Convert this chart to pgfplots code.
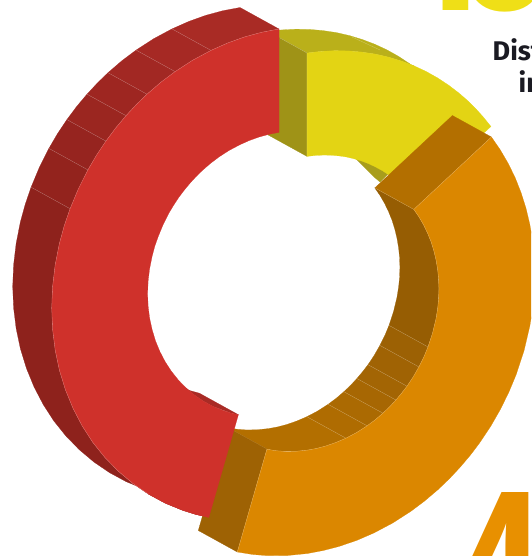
\documentclass[border=0pt]{standalone}
\usepackage{fontspec}
\usepackage{pgfplots}
\pgfplotsset{compat=1.18}
\newfontfamily\fira{Fira Sans}
\newfontfamily\libsans{Liberation Sans}
\newfontfamily\opensans{Open Sans}
\definecolor{redfront}{HTML}{CF312B}
\definecolor{redA}{HTML}{A92B25}
\definecolor{redB}{HTML}{A62924}
\definecolor{redC}{HTML}{A22823}
\definecolor{redD}{HTML}{9E2621}
\definecolor{redE}{HTML}{9B2620}
\definecolor{redF}{HTML}{96241F}
\definecolor{redG}{HTML}{93231D}
\definecolor{redH}{HTML}{8E221C}
\definecolor{yellowfront}{HTML}{E3D414}
\definecolor{olivetop}{HTML}{BAB01A}
\definecolor{olivewall}{HTML}{9F9317}
\definecolor{olivelow}{HTML}{A89D1C}
\definecolor{orangefront}{HTML}{DB8700}
\definecolor{browntop}{HTML}{B36F00}
\definecolor{browncut}{HTML}{9E6204}
\definecolor{wallA}{HTML}{965D03}
\definecolor{wallB}{HTML}{9C6104}
\definecolor{wallC}{HTML}{A06304}
\definecolor{wallD}{HTML}{A36504}
\definecolor{wallE}{HTML}{A76703}
\definecolor{wallF}{HTML}{AB6A02}
\definecolor{wallG}{HTML}{AF6C01}
\definecolor{wallH}{HTML}{B36F00}
\definecolor{bigyellow}{HTML}{EFDF17}
\definecolor{bigorange}{HTML}{E89000}
\definecolor{inkdark}{HTML}{1A1A22}
% one flat face of the extruded ring
\newcommand\face[2]{\addplot[fill=#1,draw=#1,line width=.2pt,forget plot] coordinates {#2} --cycle;}
% pale hairline along a facet boundary
\newcommand\seam[1]{\addplot[draw=white,opacity=.35,line width=.3pt,forget plot] coordinates {#1};}
\begin{document}
\begin{tikzpicture}
\path[use as bounding box,clip] (0,0) rectangle (531pt,556pt);
\begin{axis}[
  at={(0,0)},anchor=south west,
  width=531pt,height=556pt,scale only axis,
  xmin=0,xmax=531,ymin=0,ymax=556,y dir=reverse,
  axis lines=none,clip=true]
% yellow slice (15%): outer wall, inner sliver, cut face and front
\face{olivetop}{(268,31.5)(281.9,29.9)(295.7,29.2)(309.4,29.4)(323,30.6)(336.4,32.6)(349.5,35.6)(362.3,39.5)(374.7,44.2)(386.8,49.8)(398.4,56.3)(409.5,63.6)(420.1,71.7)(413.7,65.7)(401.3,61)(388.5,57.1)(375.4,54.1)(362,52.1)(348.4,50.9)(334.7,50.7)(320.9,51.4)(307,53)}
\face{olivelow}{(352,155)(360,163)(367,170)(374,177)(380,182)(390,172)(360,155)}
\face{olivewall}{(268,31.5)(307,53)(307,156.4)(268,134.9)}
\face{yellowfront}{(307,53)(320.9,51.4)(334.7,50.7)(348.4,50.9)(362,52.1)(375.4,54.1)(388.5,57.1)(401.3,61)(413.7,65.7)(425.8,71.3)(437.4,77.8)(448.5,85.1)(459.1,93.2)(467.7,100.7)(475.9,108.8)(483.6,117.4)(490.9,126.5)(413.3,198.9)(394.9,179.6)(388.8,174.9)(382.4,170.7)(375.6,167)(368.7,163.7)(361.5,161)(354.1,158.8)(346.5,157)(338.8,155.9)(330.9,155.2)(323,155.1)(315,155.5)(307,156.4)}
\seam{(280,38)(307,53)(307,156.4)}
\seam{(352,37)(380,50)}
% red slice (45%): outer wall facets
\face{redA}{(240,7.5)(222.75,10.75)(205.6,15.4)(188.65,21.5)(172,28.9)(211,50.4)(227.65,43)(244.6,36.9)(261.75,32.25)(279,29)}
\face{redB}{(172,28.9)(153.7,38.7)(136.1,50.1)(175.1,71.6)(192.7,60.2)(211,50.4)}
\face{redC}{(136.1,50.1)(121.7,60.9)(108,72.7)(147,94.2)(160.7,82.4)(175.1,71.6)}
\face{redD}{(108,72.7)(97.25,83.15)(87,94.2)(126,115.7)(136.25,104.65)(147,94.2)}
\face{redE}{(87,94.2)(76.6,106.6)(66.9,119.6)(105.9,141.1)(115.6,128.1)(126,115.7)}
\face{redF}{(66.9,119.6)(57.5,133.7)(48.9,148.4)(87.9,169.9)(96.5,155.2)(105.9,141.1)}
\face{redG}{(48.9,148.4)(39.3,167.5)(31.1,187.2)(70.1,208.7)(78.3,189)(87.9,169.9)}
\face{redH}{(31.1,187.2)(25.2,204.4)(20.4,221.9)(16.15,243.4)(13.6,265)(12.7,286.5)(13.6,307.8)(16.15,328.5)(20.4,348.7)(26.4,368.2)(34,386.8)(43.15,404.4)(53.8,420.9)(65.9,436)(79.3,449.7)(93.9,462)(109.6,472.7)(126.3,481.7)(143.9,488.9)(156.7,492.9)(169.8,496)(208.8,517.5)(195.7,514.4)(182.9,510.4)(165.3,503.2)(148.6,494.2)(132.9,483.5)(118.3,471.2)(104.9,457.5)(92.8,442.4)(82.15,425.9)(73,408.3)(65.4,389.7)(59.4,370.2)(55.15,350)(52.6,329.3)(51.7,308)(52.6,286.5)(55.15,264.9)(59.4,243.4)(64.2,225.9)(70.1,208.7)}
\seam{(172,28.9)(211,50.4)}
\seam{(136.1,50.1)(175.1,71.6)}
\seam{(108,72.7)(147,94.2)}
\seam{(87,94.2)(126,115.7)}
\seam{(66.9,119.6)(105.9,141.1)}
\seam{(48.9,148.4)(87.9,169.9)}
\seam{(31.1,187.2)(70.1,208.7)}
\face{redA}{(184.5,389.1)(199.4,393.2)(238.4,414.7)(230.9,413)(213.3,406.5)(203.6,401.3)(194.6,395.1)(186.1,388)}
% orange slice (40%): inner wall facets
\face{wallA}{(374.8,187.9)(379.9,195.3)(384.5,203.2)(388.5,211.5)(392,220.1)(394.8,229.1)(397,238.3)(398.6,247.8)(399.6,257.5)(399.9,267.3)(399.6,277.3)(398.6,287.2)(397,297.2)(393.6,311.4)(389,325.4)(428,346.9)(432.6,332.9)(436,318.7)(437.6,308.7)(438.6,298.8)(438.9,288.8)(438.6,279)(437.6,269.3)(436,259.8)(433.8,250.6)(431,241.6)(427.5,233)(423.5,224.7)(418.9,216.8)(413.8,209.4)}
\face{wallB}{(389,325.4)(384.8,335.6)(379.9,345.4)(418.9,366.9)(423.8,357.1)(428,346.9)}
\face{wallC}{(379.9,345.4)(374.3,355.2)(368,364.7)(407,386.2)(413.3,376.7)(418.9,366.9)}
\face{wallD}{(368,364.7)(362.6,371.7)(356.9,378.5)(395.9,400)(401.6,393.2)(407,386.2)}
\face{wallE}{(356.9,378.5)(350.6,385.3)(343.9,391.7)(382.9,413.2)(389.6,406.8)(395.9,400)}
\face{wallF}{(343.9,391.7)(336.2,398.3)(328.1,404.3)(367.1,425.8)(375.2,419.8)(382.9,413.2)}
\face{wallG}{(328.1,404.3)(317.7,411)(306.9,416.7)(345.9,438.2)(356.7,432.5)(367.1,425.8)}
\face{wallH}{(306.9,416.7)(296.9,421)(286.8,424.5)(277.7,426.9)(268.5,428.6)(257.1,429.8)(245.7,429.9)(236.7,429.2)(227.9,427.7)(266.9,449.2)(275.7,450.7)(284.7,451.4)(296.1,451.3)(307.5,450.1)(316.7,448.4)(325.8,446)(335.9,442.5)(345.9,438.2)}
\seam{(389,325.4)(428,346.9)}
\seam{(379.9,345.4)(418.9,366.9)}
\seam{(368,364.7)(407,386.2)}
\seam{(356.9,378.5)(395.9,400)}
\seam{(343.9,391.7)(382.9,413.2)}
\seam{(328.1,404.3)(367.1,425.8)}
\seam{(306.9,416.7)(345.9,438.2)}
\seam{(227.9,427.7)(266.9,449.2)}
% orange slice: the two cut faces and the front
\face{browntop}{(452.4,115.5)(491.4,137)(413.8,209.4)(374.8,187.9)}
\face{browncut}{(266.9,449.2)(237.3,552)(198.3,530.5)(227.9,427.7)}
\face{orangefront}{(491.4,137)(500.3,149.9)(508.2,163.5)(515.2,177.8)(521.1,192.8)(526,208.3)(529.8,224.3)(532.6,240.7)(534.3,257.5)(534.9,274.5)(534.3,291.7)(532.6,308.9)(529.8,326.1)(524,350.8)(516,375)(508.7,392.5)(500.3,409.5)(490.5,426.6)(479.6,442.9)(470.4,455.1)(460.5,466.8)(449.5,478.6)(437.9,489.7)(424.6,501)(410.7,511.4)(392.7,523)(374,532.9)(356.7,540.4)(339.1,546.4)(323.3,550.5)(307.5,553.5)(287.7,555.5)(268,555.7)(252.5,554.45)(237.3,552)(266.9,449.2)(275.7,450.7)(284.7,451.4)(296.1,451.3)(307.5,450.1)(316.7,448.4)(325.8,446)(335.9,442.5)(345.9,438.2)(356.7,432.5)(367.1,425.8)(375.2,419.8)(382.9,413.2)(389.6,406.8)(395.9,400)(401.6,393.2)(407,386.2)(413.3,376.7)(418.9,366.9)(423.8,357.1)(428,346.9)(432.6,332.9)(436,318.7)(437.6,308.7)(438.6,298.8)(438.9,288.8)(438.6,279)(437.6,269.3)(436,259.8)(433.8,250.6)(431,241.6)(427.5,233)(423.5,224.7)(418.9,216.8)(413.8,209.4)}
\seam{(374.8,187.9)(413.8,209.4)(491.4,137)}
\seam{(266.9,449.2)(237.3,552)}
\seam{(266.9,449.2)(275.7,450.7)(284.7,451.4)(296.1,451.3)(307.5,450.1)(316.7,448.4)(325.8,446)(335.9,442.5)(345.9,438.2)(356.7,432.5)(367.1,425.8)(375.2,419.8)(382.9,413.2)(389.6,406.8)(395.9,400)(401.6,393.2)(407,386.2)(413.3,376.7)(418.9,366.9)(423.8,357.1)(428,346.9)(432.6,332.9)(436,318.7)(437.6,308.7)(438.6,298.8)(438.9,288.8)(438.6,279)(437.6,269.3)(436,259.8)(433.8,250.6)(431,241.6)(427.5,233)(423.5,224.7)(418.9,216.8)(413.8,209.4)}
% red slice: front face
\face{redfront}{(279,29)(261.75,32.25)(244.6,36.9)(227.65,43)(211,50.4)(192.7,60.2)(175.1,71.6)(160.7,82.4)(147,94.2)(136.25,104.65)(126,115.7)(115.6,128.1)(105.9,141.1)(96.5,155.2)(87.9,169.9)(78.3,189)(70.1,208.7)(64.2,225.9)(59.4,243.4)(55.15,264.9)(52.6,286.5)(51.7,308)(52.6,329.3)(55.15,350)(59.4,370.2)(65.4,389.7)(73,408.3)(82.15,425.9)(92.8,442.4)(104.9,457.5)(118.3,471.2)(132.9,483.5)(148.6,494.2)(165.3,503.2)(182.9,510.4)(195.7,514.4)(208.8,517.5)(238.4,414.7)(230.9,413)(223.5,410.6)(213.3,406.5)(203.6,401.3)(194.6,395.1)(186.1,388)(178.4,380.1)(171.4,371.3)(165.2,361.8)(159.9,351.6)(155.5,340.9)(152.1,329.6)(149.6,318)(148.1,306)(147.6,293.7)(148.1,281.2)(149.6,268.8)(152.1,256.3)(154.8,246.2)(158.3,236.3)(163,224.9)(168.5,213.8)(173.5,205.4)(178.9,197.2)(184.6,189.7)(190.6,182.5)(196.5,176.1)(202.7,170.1)(210.6,163.3)(218.9,157)(229.1,150.4)(239.7,144.8)(249.3,140.5)(259.1,137)(269,134.3)(279,132.4)}
\seam{(279,29)(261.75,32.25)(244.6,36.9)(227.65,43)(211,50.4)(192.7,60.2)(175.1,71.6)(160.7,82.4)(147,94.2)(136.25,104.65)(126,115.7)(115.6,128.1)(105.9,141.1)(96.5,155.2)(87.9,169.9)(78.3,189)(70.1,208.7)(64.2,225.9)(59.4,243.4)(55.15,264.9)(52.6,286.5)(51.7,308)(52.6,329.3)(55.15,350)(59.4,370.2)(65.4,389.7)(73,408.3)(82.15,425.9)(92.8,442.4)(104.9,457.5)(118.3,471.2)(132.9,483.5)(148.6,494.2)}
% headline and numerals, running off the page edges
\node[anchor=base west,inner sep=0pt,text=inkdark] at (axis cs:492.5,61) {\fira\bfseries\fontsize{27}{27}\selectfont Dist};
\node[anchor=base west,inner sep=0pt,text=inkdark] at (axis cs:518.5,93) {\fira\bfseries\fontsize{27}{27}\selectfont in};
\node[anchor=base west,inner sep=0pt,text=bigyellow] at (axis cs:398,10.7) {\opensans\bfseries\fontsize{170}{170}\selectfont 1};
\node[anchor=base west,inner sep=0pt,text=bigyellow] at (axis cs:456.5,11) {\opensans\bfseries\fontsize{170}{170}\selectfont 0};
\node[anchor=base west,inner sep=0pt,text=bigorange] at (axis cs:448,664) {\scalebox{.7}[1]{\libsans\bfseries\fontsize{250}{250}\selectfont 4}};
\end{axis}
\end{tikzpicture}
\end{document}
